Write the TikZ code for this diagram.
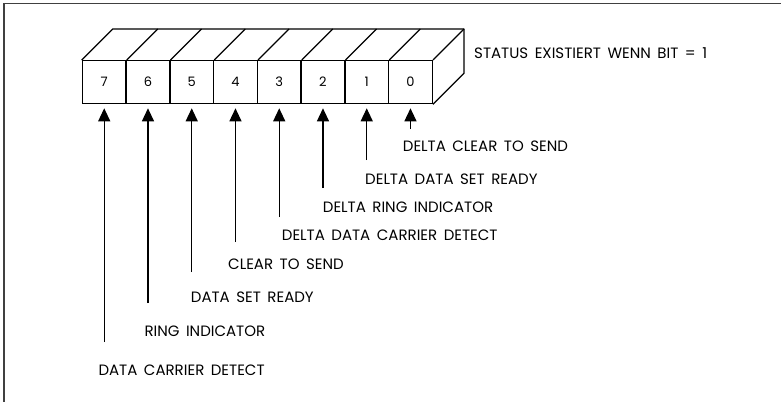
\documentclass[tikz,border=0pt]{standalone}
\usepackage{fontspec}
\setmainfont{Poppins}
\usetikzlibrary{arrows.meta,calc}
\begin{document}
\begin{tikzpicture}[x=1pt,y=-1pt,
  bitbox/.style={draw, line width=1.3pt, minimum width=43.75pt, minimum height=43pt, inner sep=0pt, anchor=north west, font=\fontsize{13}{15}\selectfont},
  lbl/.style={anchor=west, inner sep=0pt, font=\fontsize{15}{17}\selectfont},
  arr/.style={line width=1.2pt, -{Triangle[width=12pt,length=13pt]}, shorten >=4pt},
  edge3d/.style={line width=1.3pt, line join=round},
  frame/.style={line width=1.5pt, draw=black!75}]
\useasboundingbox (0,0) rectangle (781,402);
% frame (top and left only)
\draw[frame] (781,3.5) -- (4,3.5) -- (4,402);
% front boxes
\foreach \i/\n in {0/7,1/6,2/5,3/4,4/3,5/2,6/1,7/0}{
  \node[bitbox] (b\n) at ({81.7+43.75*\i},60) {\n};
}
% top and side faces
\draw[edge3d] (b7.north west) -- ++(31,-31) -- ($(b0.north east)+(31,-31)$) -- ($(b0.south east)+(31,-31)$) -- (b0.south east);
\draw[edge3d] (b0.north east) -- ++(31,-31);
\foreach \n in {7,6,5,4,3,2,1}{
  \draw[edge3d] (b\n.north east) -- ++(31,-31);
}
% status text
\node[lbl] (st) at (474,53.3) {STATUS\, EXISTIERT\, WENN\, BIT\, =\, 1};
% arrow start points
\coordinate (e0) at (b0.south |- 0,129);
\coordinate (e1) at (b1.south |- 0,160);
\coordinate (e2) at (b2.south |- 0,188);
\coordinate (e3) at (b3.south |- 0,217);
\coordinate (e4) at (b4.south |- 0,242);
\coordinate (e5) at (b5.south |- 0,272);
\coordinate (e6) at (b6.south |- 0,303);
\coordinate (e7) at (b7.south |- 0,342);
\foreach \n in {0,...,7}{
  \draw[arr] (e\n) -- (b\n.south);
}
% labels
\node[lbl] (l0) at (402.7,146.7) {DELTA\, CLEAR\, TO\, SEND};
\node[lbl] (l1) at (365,179) {DELTA\, DATA\, SET\, READY};
\node[lbl] (l2) at (322.7,207.7) {DELTA\, RING\, INDICATOR};
\node[lbl] (l3) at (281.7,235) {DELTA\, DATA\, CARRIER\, DETECT};
\node[lbl] (l4) at (228,264) {CLEAR\, TO\, SEND};
\node[lbl] (l5) at (190.7,297.7) {DATA\, SET\, READY};
\node[lbl] (l6) at (144.3,331.7) {RING\, INDICATOR};
\node[lbl] (l7) at (98.3,370) {DATA\, CARRIER\, DETECT};
\end{tikzpicture}
\end{document}
